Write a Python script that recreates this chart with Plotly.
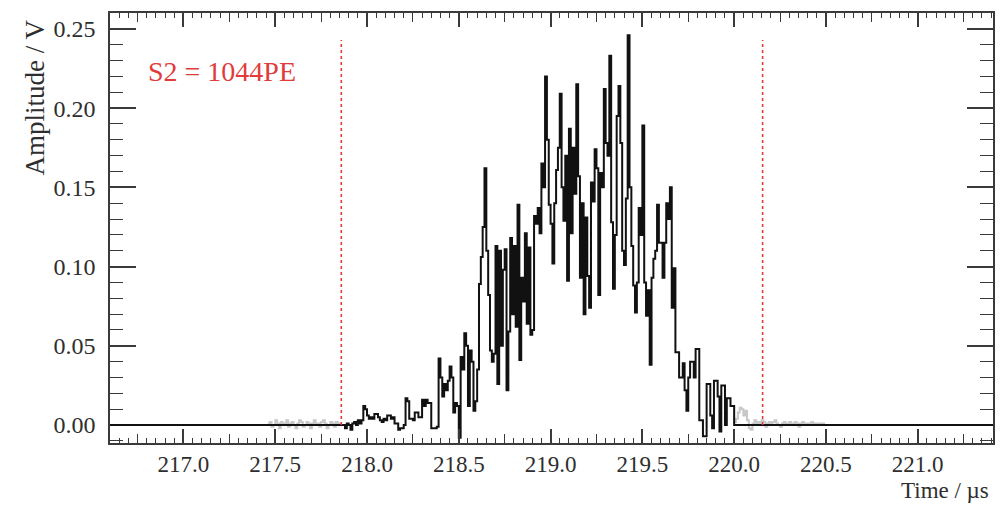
import numpy as np
import plotly.graph_objects as go

# ---------------- data ----------------
x_range = [216.60, 221.41]
y_range = [-0.0113, 0.260]

baseline_start = 216.0     # flat zero baseline of the selected waveform
baseline_end = 222.0

window_start = 217.86      # S2 integration window (red dotted lines)
window_end = 220.155
window_top = 0.243

bin_width = 0.01           # µs
signal_t0 = 217.86         # first bin of the black (selected) waveform
signal_values = [
    0.000, 0.000, -0.002, 0.001, 0.000, -0.003, 0.001, 0.002, 0.000, 0.003,
    0.001, 0.003, 0.012, 0.010, 0.006, 0.004, 0.005, 0.004, 0.007, 0.007,
    0.005, 0.003, 0.002, 0.004, 0.003, 0.006, 0.006, 0.004, 0.005, 0.001,
    0.001, -0.003, -0.002, -0.002, 0.000, 0.017, 0.015, 0.004, 0.004, 0.003,
    0.008, 0.008, 0.005, 0.005, 0.016, 0.012, 0.016, 0.014, 0.014, -0.002,
    -0.002, -0.002, -0.001, 0.042, 0.030, 0.018, 0.026, 0.022, 0.028, 0.037,
    0.030, 0.008, 0.014, 0.012, -0.008, 0.043, 0.035, 0.058, 0.050, 0.012,
    0.047, 0.040, 0.009, 0.015, 0.035, 0.089, 0.106, 0.125, 0.162, 0.110,
    0.082, 0.047, 0.040, 0.045, 0.113, 0.026, 0.110, 0.050, 0.098, 0.111,
    0.022, 0.059, 0.118, 0.070, 0.113, 0.062, 0.139, 0.041, 0.093, 0.078,
    0.121, 0.064, 0.112, 0.057, 0.060, 0.132, 0.127, 0.137, 0.121, 0.165,
    0.150, 0.220, 0.180, 0.139, 0.127, 0.102, 0.140, 0.161, 0.175, 0.209,
    0.150, 0.129, 0.170, 0.091, 0.187, 0.121, 0.175, 0.146, 0.215, 0.157,
    0.093, 0.140, 0.070, 0.131, 0.094, 0.074, 0.153, 0.141, 0.174, 0.162,
    0.082, 0.159, 0.150, 0.212, 0.178, 0.170, 0.233, 0.128, 0.086, 0.120,
    0.195, 0.214, 0.178, 0.110, 0.101, 0.143, 0.246, 0.150, 0.113, 0.088,
    0.071, 0.090, 0.137, 0.120, 0.189, 0.090, 0.069, 0.085, 0.038, 0.093,
    0.105, 0.110, 0.139, 0.115, 0.115, 0.093, 0.115, 0.140, 0.130, 0.150,
    0.074, 0.099, 0.046, 0.046, 0.030, 0.030, 0.039, 0.022, 0.009, 0.030,
    0.040, 0.040, 0.030, 0.048, 0.048, 0.003, 0.003, -0.007, -0.007, 0.026,
    0.026, 0.006, -0.002, 0.028, 0.028, 0.018, -0.004, 0.025, 0.025, 0.000,
    0.017, 0.017, 0.012, 0.012, 0.000,
]

# faint grey raw waveform visible outside the selected region
raw_pre_t0 = 217.46
raw_pre_values = [
    0.001, 0.002, -0.001, 0.000, 0.003, 0.001, -0.002, 0.002, 0.000, 0.001,
    0.003, -0.001, 0.001, 0.002, 0.000, -0.002, 0.001, 0.003, 0.002, -0.001,
    0.000, 0.002, 0.001, -0.002, 0.001, 0.003, 0.000, 0.001, -0.001, 0.002,
    0.003, 0.001, -0.002, 0.000, 0.002, 0.001, -0.001, 0.002, 0.000, 0.001,
]
raw_post_t0 = 220.00
raw_post_values = [
    0.002, 0.004, 0.008, 0.011, 0.010, 0.006, 0.009, 0.003, -0.002, -0.003,
    0.001, 0.003, 0.000, 0.002, 0.001, 0.003, 0.002, -0.001, 0.001, 0.002,
    0.000, 0.002, 0.003, 0.001, 0.000, -0.001, 0.001, 0.002, 0.000, 0.001,
    0.002, 0.001, 0.000, 0.002, 0.001, -0.001, 0.001, 0.002, 0.000, 0.001,
    0.001, 0.000, 0.002, 0.001, 0.000, 0.001, 0.000, 0.001, 0.001, 0.000,
]

label_text = "S2 = 1044PE"
x_title = "Time / µs"
y_title = "Amplitude / V"

# ---------------- helpers ----------------
def step_xy(t0, vals):
    edges = t0 + bin_width * np.arange(len(vals) + 1)
    return list(edges), list(vals) + [vals[-1]]

FONT = "Liberation Serif"
AX = "#3a3a3a"
TXT = "#2e2e2e"
RED = "#e23b3b"

fig = go.Figure()

for t0, vals in [(raw_pre_t0, raw_pre_values), (raw_post_t0, raw_post_values)]:
    gx, gy = step_xy(t0, vals)
    fig.add_trace(go.Scatter(x=gx, y=gy, mode="lines",
                             line=dict(color="#c8c8c8", width=2, shape="hv"),
                             hoverinfo="skip", showlegend=False))

sx, sy = step_xy(signal_t0, signal_values)
bx = [baseline_start] + sx + [baseline_end]
by = [0.0] + sy[:-1] + [0.0, 0.0]
fig.add_trace(go.Scatter(x=bx, y=by, mode="lines",
                         line=dict(color="#111111", width=2, shape="hv"),
                         showlegend=False))

# invisible traces to anchor the tick-only overlay axes
fig.add_trace(go.Scatter(x=x_range, y=[None, None], xaxis="x2", yaxis="y2",
                         mode="lines", showlegend=False, hoverinfo="skip"))
fig.add_trace(go.Scatter(x=x_range, y=[None, None], xaxis="x3", yaxis="y",
                         mode="lines", showlegend=False, hoverinfo="skip"))

for xv in (window_start, window_end):
    fig.add_shape(type="line", x0=xv, x1=xv, y0=0, y1=window_top,
                  xref="x", yref="y",
                  line=dict(color=RED, width=1.6, dash="dot"))

fig.add_annotation(text=label_text, xref="paper", yref="paper",
                   x=0.041, y=0.865, xanchor="left", yanchor="middle",
                   showarrow=False, font=dict(family=FONT, size=28, color=RED))
fig.add_annotation(text=x_title, xref="paper", yref="paper",
                   x=0.998, y=-0.111, xanchor="right", yanchor="middle",
                   showarrow=False, font=dict(family=FONT, size=23, color=TXT))
fig.add_annotation(text=y_title, xref="paper", yref="paper",
                   x=-0.0847, y=0.99, xanchor="center", yanchor="top",
                   textangle=-90, showarrow=False,
                   font=dict(family=FONT, size=27, color=TXT))

tick_common = dict(showgrid=False, zeroline=False)

fig.update_layout(
    width=1006, height=506,
    margin=dict(l=110, r=11, t=12, b=63),
    paper_bgcolor="white", plot_bgcolor="white",
    font=dict(family=FONT, size=24, color=TXT),
    xaxis=dict(range=x_range, **tick_common,
               showline=True, linecolor=AX, linewidth=1.5, mirror=True,
               ticks="", tick0=217, dtick=0.5, tickformat=".1f",
               tickfont=dict(size=23), ticklabelstandoff=0),
    yaxis=dict(range=y_range, **tick_common,
               showline=True, linecolor=AX, linewidth=1.5, mirror=True,
               ticks="", tick0=0, dtick=0.05, tickformat=".2f",
               ticklabelstandoff=8),
    xaxis2=dict(range=x_range, overlaying="x", anchor="y2", matches="x",
                **tick_common, showline=False, showticklabels=False,
                mirror="ticks", ticks="inside", ticklen=14, tickwidth=1.5,
                tickcolor=AX, tick0=217, dtick=0.5,
                minor=dict(ticks="inside", dtick=0.05, tick0=217, ticklen=5,
                           tickwidth=1.2, tickcolor=AX, showgrid=False)),
    yaxis2=dict(range=y_range, overlaying="y", anchor="x2", matches="y",
                **tick_common, showline=False, showticklabels=False,
                layer="below traces",
                mirror="ticks", ticks="inside", ticklen=26, tickwidth=1.5,
                tickcolor=AX, tick0=0, dtick=0.05,
                minor=dict(ticks="inside", dtick=0.01, tick0=0, ticklen=13,
                           tickwidth=1.2, tickcolor=AX, showgrid=False)),
    xaxis3=dict(range=x_range, overlaying="x", anchor="y", matches="x",
                **tick_common, showline=False, showticklabels=False,
                mirror="ticks", ticks="inside", ticklen=9, tickwidth=1.3,
                tickcolor=AX, tick0=217, dtick=0.25),
)

fig.write_html("out.html")
